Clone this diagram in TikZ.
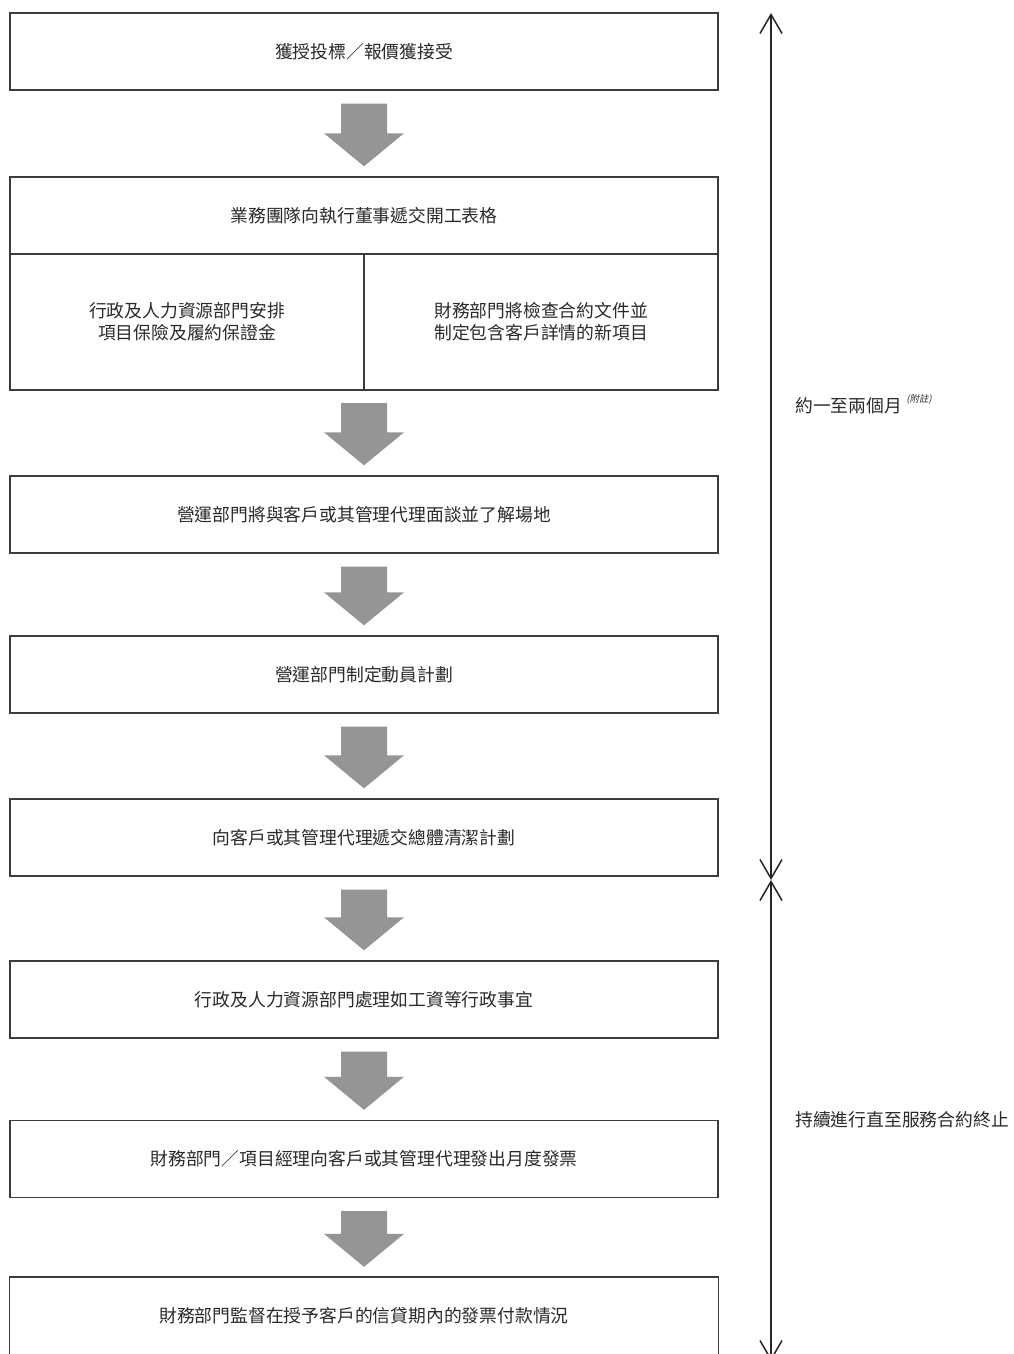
\documentclass[tikz,border=0pt]{standalone}
\usepackage{fontspec}
\newfontfamily\cjk{Noto Sans CJK TC}
\newfontfamily\cjkslant{Noto Sans CJK TC}[FakeSlant=0.2]
\usetikzlibrary{calc,arrows.meta}
\definecolor{boxline}{HTML}{3C3C3C}
\definecolor{txt}{HTML}{2A2A2A}
\definecolor{arrowfill}{HTML}{959595}
\tikzset{
  stepbox/.style={draw=boxline, line width=1.4pt, minimum width=708pt, minimum height=77pt,
    inner sep=0pt, text=txt, font=\cjk\fontsize{17.8}{22}\selectfont, align=center},
  halfbox/.style={stepbox, minimum width=354pt, minimum height=136pt},
  sidelabel/.style={anchor=west, inner sep=0pt, text=txt, font=\cjk\fontsize{17.8}{22}\selectfont},
  spanline/.style={draw=black!85, line width=1.5pt},
  barb/.tip={Straight Barb[length=19pt,width=22pt,line width=1.5pt]}
}
\newcommand\blkarrow[2]{%
  \fill[arrowfill] let \p1=(#1.south), \p2=(#2.north) in
    (\x1-23pt,\y1-13pt) -- (\x1+23pt,\y1-13pt) -- (\x1+23pt,\y2+43pt) --
    (\x1+40pt,\y2+43pt) -- (\x1,\y2+10pt) -- (\x1-40pt,\y2+43pt) --
    (\x1-23pt,\y2+43pt) -- cycle;}
\begin{document}
\begin{tikzpicture}[x=1pt,y=-1pt]
\useasboundingbox (0,0) rectangle (1013,1354);
\clip (0,0) rectangle (1013,1354);
\fill[white] (0,0) rectangle (1013,1354);

\node[stepbox] (b1) at (364,51.5) {獲授投標／報價獲接受};
\node[stepbox] (b2) at (364,215.5) {業務團隊向執行董事遞交開工表格};
\node[halfbox] (b2l) at (187,322) {行政及人力資源部門安排\\項目保險及履約保證金};
\node[halfbox] (b2r) at (541,322) {財務部門將檢查合約文件並\\制定包含客戶詳情的新項目};
\coordinate (b2s) at (364,390);
\node[stepbox] (b3) at (364,514.5) {營運部門將與客戶或其管理代理面談並了解場地};
\node[stepbox] (b4) at (364,674.5) {營運部門制定動員計劃};
\node[stepbox] (b5) at (364,837.5) {向客戶或其管理代理遞交總體清潔計劃};
\node[stepbox] (b6) at (364,999.5) {行政及人力資源部門處理如工資等行政事宜};
\node[stepbox] (b7) at (364,1159) {財務部門／項目經理向客戶或其管理代理發出月度發票};
\node[stepbox, draw=none] (b8) at (364,1316) {財務部門監督在授予客戶的信貸期內的發票付款情況};
\draw[boxline, line width=1.4pt] ($(b8.south west)+(0,10)$) -- (b8.north west) -- (b8.north east) -- ($(b8.south east)+(0,10)$);

\blkarrow{b1}{b2}
\blkarrow{b2s}{b3}
\blkarrow{b3}{b4}
\blkarrow{b4}{b5}
\blkarrow{b5}{b6}
\blkarrow{b6}{b7}
\blkarrow{b7}{b8}

\coordinate (ttop) at (771,13);
\coordinate (tmid) at (771,880);
\coordinate (tbot) at (771,1361);
\draw[spanline, {barb}-{barb}] (ttop) -- (tmid);
\draw[spanline, {barb}-{barb}] (tmid) -- (tbot);

\node[sidelabel] (l1) at (795,406) {約一至兩個月};
\node[anchor=south west, inner sep=0pt, text=txt, font=\cjkslant\fontsize{9.5}{11}\selectfont] (l1n) at ($(l1.north east)+(4,7)$) {(附註)};
\node[sidelabel] (l2) at (795,1120) {持續進行直至服務合約終止};
\end{tikzpicture}
\end{document}
